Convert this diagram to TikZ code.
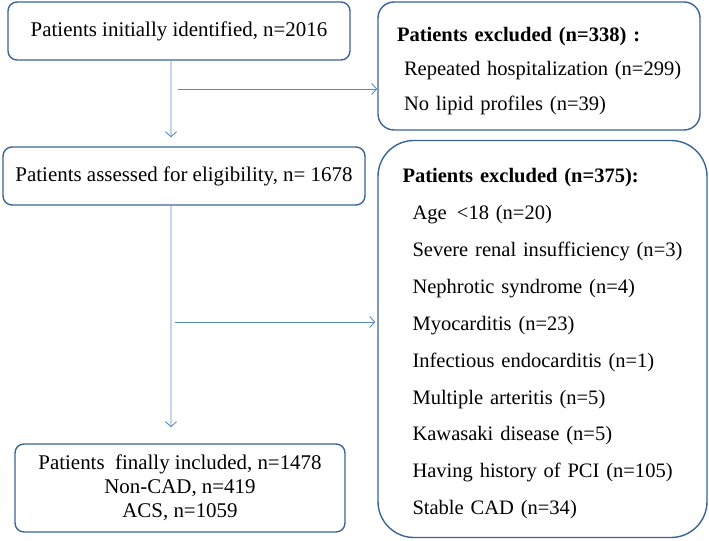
\documentclass[tikz,border=0pt]{standalone}
\usepackage{fontspec}
\setmainfont{Liberation Serif}
\usetikzlibrary{arrows.meta,positioning,calc}
\definecolor{boxline}{HTML}{3A6496}
\definecolor{arrline}{HTML}{5B8BC6}
\newcommand{\toppad}{\rule{0pt}{24bp}}

\begin{document}
\begin{tikzpicture}[
  x=1bp, y=-1bp,
  box/.style={draw=boxline,line width=1.4bp,rounded corners=9bp,align=center,
              font=\fontsize{21}{24}\selectfont,inner sep=0pt},
  exbox/.style={draw=boxline,line width=1.4bp,align=left,inner sep=0pt,
                font=\fontsize{20.6}{34.5}\selectfont},
  arr/.style={draw=arrline,line width=0.9bp,-{Straight Barb[length=5bp,width=11bp]}}
]
\useasboundingbox (0,0) rectangle (709,541);
\node[box,minimum width=342bp,minimum height=58bp] (init) at (179,31)
  {Patients initially identified, n=2016};
\node[box,minimum width=362bp,minimum height=58bp] (assess) at (184,176)
  {Patients assessed for eligibility, n= 1678};
\node[box,minimum width=330bp,minimum height=88bp] (final) at (180,488)
  {Patients\ \ finally included, n=1478\\Non-CAD, n=419\\ACS, n=1059};
\node[exbox,rounded corners=16bp,minimum width=322bp,minimum height=128bp,
      text width=300bp] (excl1) at (539,66)
  {\toppad\hspace{8bp}\textbf{Patients excluded (n=338) :}\\
   \hspace{15bp}Repeated hospitalization (n=299)\\
   \hspace{15bp}No lipid profiles (n=39)};
\node[exbox,rounded corners=36bp,minimum width=329bp,minimum height=397bp,
      text width=294bp,font=\fontsize{20.6}{37}\selectfont] (excl2) at (542.5,339)
  {\toppad\hspace{7bp}\textbf{Patients excluded (n=375):}\\
   \hspace{17bp}Age \,<18 (n=20)\\
   \hspace{17bp}Severe renal insufficiency (n=3)\\
   \hspace{17bp}Nephrotic syndrome (n=4)\\
   \hspace{17bp}Myocarditis (n=23)\\
   \hspace{17bp}Infectious endocarditis (n=1)\\
   \hspace{17bp}Multiple arteritis (n=5)\\
   \hspace{17bp}Kawasaki disease (n=5)\\
   \hspace{17bp}Having history of PCI (n=105)\\
   \hspace{17bp}Stable CAD (n=34)};
% flow down
\draw[arr] ([xshift=-8bp]init.south) -- ([xshift=-13bp,yshift=9bp]assess.north);
\draw[arr] ([xshift=-13bp]assess.south) -- ([xshift=-9bp,yshift=16bp]final.north);
% exclusions
\coordinate (j1) at (178,89);
\coordinate (j2) at (175,322);
\draw[arr] (j1) -- (j1 -| excl1.west);
\draw[arr] (j2) -- ([xshift=-2bp]j2 -| excl2.west);
\end{tikzpicture}
\end{document}
